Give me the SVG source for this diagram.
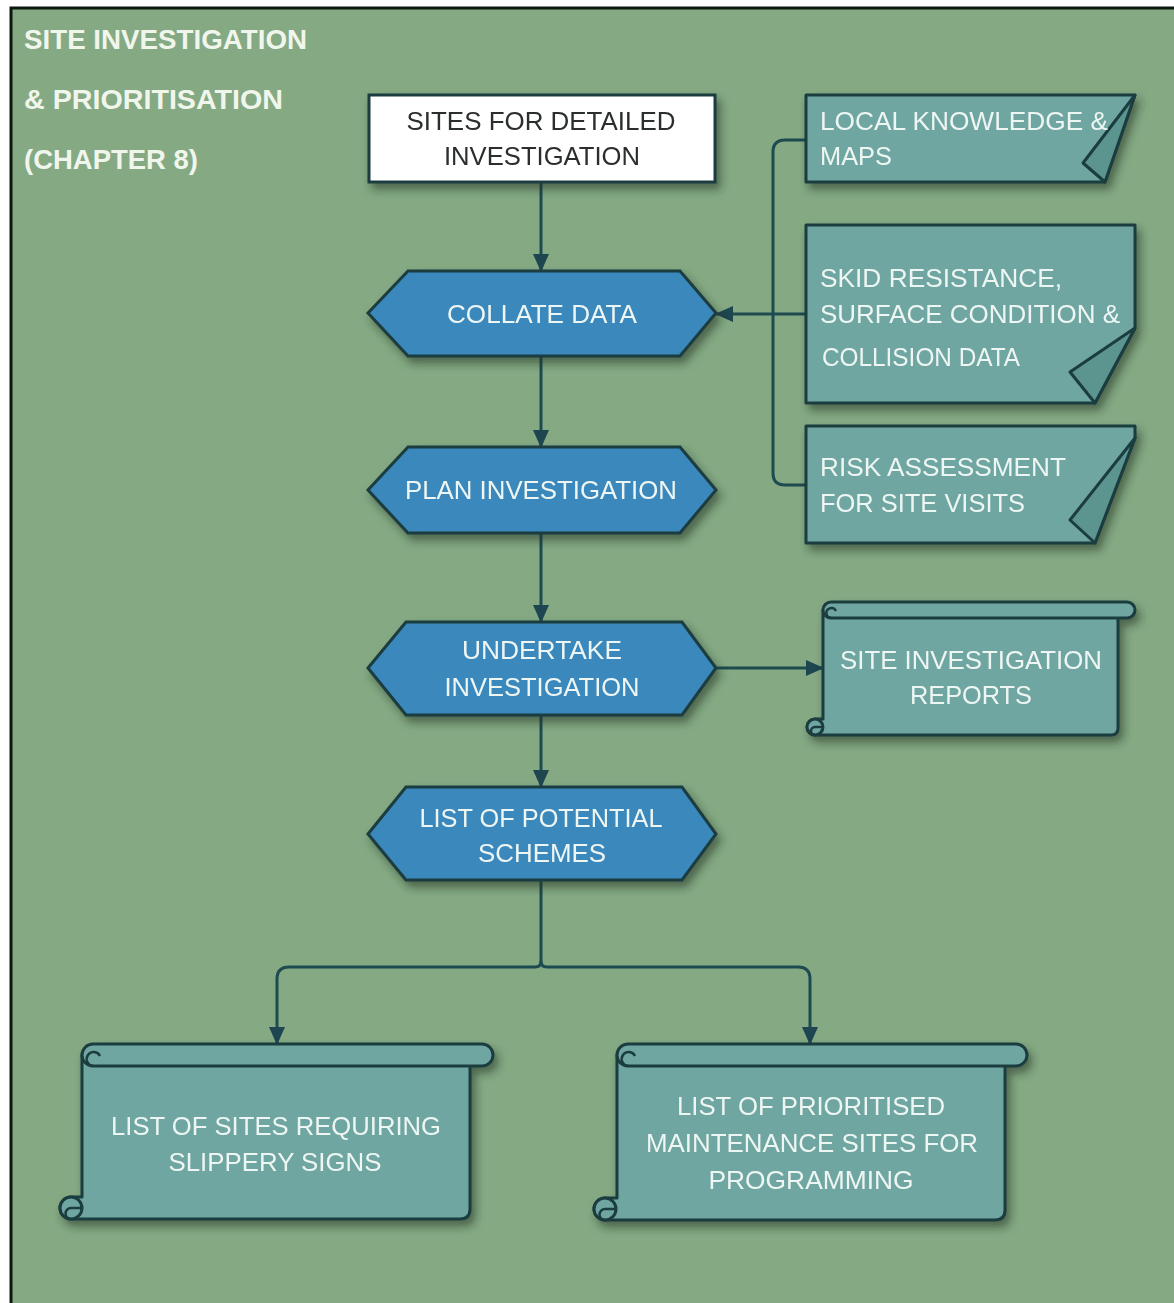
<svg xmlns="http://www.w3.org/2000/svg" width="1174" height="1303" viewBox="0 0 1174 1303">
  <defs>
    <filter id="shadow" x="-10%" y="-10%" width="130%" height="140%">
      <feDropShadow dx="4" dy="6" stdDeviation="4" flood-color="#1d2e24" flood-opacity="0.55"/>
    </filter>
    <marker id="arrow" markerUnits="userSpaceOnUse" markerWidth="18" markerHeight="16" refX="17" refY="8" orient="auto">
      <path d="M0,0 L18,8 L0,16 Z" fill="#1d4650"/>
    </marker>
  </defs>
  <style>
    .frame { fill: #84a983; stroke: #0d160f; stroke-width: 3; }
    .title { font-family: "Liberation Sans", Arial, sans-serif; font-weight: bold; font-size: 28px; fill: #f1f6ec; }
    .hex { fill: #3b88bc; stroke: #1c3d40; stroke-width: 3; }
    .start { fill: #ffffff; stroke: #1c3d3f; stroke-width: 3; }
    .paper { fill: #6fa6a1; stroke: #1c3d3f; stroke-width: 3; stroke-linejoin: round; }
    .fold { fill: #5b948f; stroke: #1c3d3f; stroke-width: 3; stroke-linejoin: round; }
    .curl { fill: none; stroke: #1c3d3f; stroke-width: 2.5; }
    .lbl { font-family: "Liberation Sans", Arial, sans-serif; font-size: 25px; fill: #eef6f3; }
    .dark { font-family: "Liberation Sans", Arial, sans-serif; font-size: 25px; fill: #2b2d2e; }
    .mid { text-anchor: middle; }
    .conn { fill: none; stroke: #1e4a52; stroke-width: 3; }
  </style>

  <!-- page background and frame -->
  <rect x="0" y="0" width="1174" height="1303" fill="#ffffff"/>
  <rect class="frame" x="11" y="8" width="1180" height="1310"/>

  <!-- heading -->
  <g id="heading">
    <text class="title" x="24" y="49" textLength="283" lengthAdjust="spacingAndGlyphs">SITE INVESTIGATION</text>
    <text class="title" x="24" y="109" textLength="259" lengthAdjust="spacingAndGlyphs">&amp; PRIORITISATION</text>
    <text class="title" x="24" y="169" textLength="174" lengthAdjust="spacingAndGlyphs">(CHAPTER 8)</text>
  </g>

  <!-- connectors -->
  <g id="connectors">
    <path class="conn" d="M541,182 L541,271" marker-end="url(#arrow)"/>
    <path class="conn" d="M541,356 L541,447" marker-end="url(#arrow)"/>
    <path class="conn" d="M541,533 L541,622" marker-end="url(#arrow)"/>
    <path class="conn" d="M541,715 L541,787" marker-end="url(#arrow)"/>
    <path class="conn" d="M541,880 L541,961 Q541,967 535,967 L289,967 Q277,967 277,979 L277,1044" marker-end="url(#arrow)"/>
    <path class="conn" d="M541,961 Q541,967 547,967 L798,967 Q810,967 810,979 L810,1044" marker-end="url(#arrow)"/>
    <path class="conn" d="M806,140 L785,140 Q773,140 773,152 L773,473 Q773,485 785,485 L806,485"/>
    <path class="conn" d="M806,314 L716,314" marker-end="url(#arrow)"/>
    <path class="conn" d="M716,668 L823,668" marker-end="url(#arrow)"/>
  </g>

  <!-- start box -->
  <g id="sites-for-detailed-investigation" filter="url(#shadow)">
    <rect class="start" x="369" y="95" width="346" height="87"/>
    <text class="dark mid" x="541" y="130" textLength="269" lengthAdjust="spacingAndGlyphs">SITES FOR DETAILED</text>
    <text class="dark mid" x="542" y="165" textLength="196" lengthAdjust="spacingAndGlyphs">INVESTIGATION</text>
  </g>

  <!-- process steps -->
  <g id="collate-data" filter="url(#shadow)">
    <polygon class="hex" points="368,313 408,271 680,271 716,313 680,356 408,356"/>
    <text class="lbl mid" x="542" y="323" textLength="190" lengthAdjust="spacingAndGlyphs">COLLATE DATA</text>
  </g>

  <g id="plan-investigation" filter="url(#shadow)">
    <polygon class="hex" points="368,490 408,447 680,447 716,490 680,533 408,533"/>
    <text class="lbl mid" x="541" y="499" textLength="272" lengthAdjust="spacingAndGlyphs">PLAN INVESTIGATION</text>
  </g>

  <g id="undertake-investigation" filter="url(#shadow)">
    <polygon class="hex" points="368,668 406,622 682,622 716,668 682,715 406,715"/>
    <text class="lbl mid" x="542" y="659" textLength="160" lengthAdjust="spacingAndGlyphs">UNDERTAKE</text>
    <text class="lbl mid" x="542" y="696" textLength="195" lengthAdjust="spacingAndGlyphs">INVESTIGATION</text>
  </g>

  <g id="list-of-potential-schemes" filter="url(#shadow)">
    <polygon class="hex" points="368,834 406,787 682,787 716,834 682,880 406,880"/>
    <text class="lbl mid" x="541" y="827" textLength="243" lengthAdjust="spacingAndGlyphs">LIST OF POTENTIAL</text>
    <text class="lbl mid" x="542" y="862" textLength="128" lengthAdjust="spacingAndGlyphs">SCHEMES</text>
  </g>

  <!-- input documents with curled corner -->
  <g id="local-knowledge-maps" filter="url(#shadow)">
    <polygon class="paper" points="806,95 1135,95 1105,182 806,182"/>
    <polygon class="fold" points="1135,95 1083,163 1105,182"/>
    <text class="lbl" x="820" y="130" textLength="288" lengthAdjust="spacingAndGlyphs">LOCAL KNOWLEDGE &amp;</text>
    <text class="lbl" x="820" y="165" textLength="72" lengthAdjust="spacingAndGlyphs">MAPS</text>
  </g>

  <g id="skid-resistance-data" filter="url(#shadow)">
    <polygon class="paper" points="806,225 1135,225 1135,328 1095,403 806,403"/>
    <polygon class="fold" points="1135,328 1070,372 1095,403"/>
    <text class="lbl" x="820" y="287" textLength="242" lengthAdjust="spacingAndGlyphs">SKID RESISTANCE,</text>
    <text class="lbl" x="820" y="323" textLength="300" lengthAdjust="spacingAndGlyphs">SURFACE CONDITION &amp;</text>
    <text class="lbl" x="822" y="366" textLength="198" lengthAdjust="spacingAndGlyphs" font-size="24">COLLISION DATA</text>
  </g>

  <g id="risk-assessment" filter="url(#shadow)">
    <polygon class="paper" points="806,426 1135,426 1135,438 1095,543 806,543"/>
    <polygon class="fold" points="1135,438 1070,520 1095,543"/>
    <text class="lbl" x="820" y="476" textLength="246" lengthAdjust="spacingAndGlyphs">RISK ASSESSMENT</text>
    <text class="lbl" x="820" y="512" textLength="205" lengthAdjust="spacingAndGlyphs">FOR SITE VISITS</text>
  </g>

  <!-- output scrolls -->
  <g id="site-investigation-reports" filter="url(#shadow)">
    <path class="paper" d="M823,610 L1118,610 L1118,728 Q1118,735 1111,735 L815,735 A8,8 0 0 1 815,719 L823,719 Z"/>
    <rect class="paper" x="823" y="602" width="312" height="16" rx="8"/>
    <path class="curl" d="M831,618 A5,5 0 1 1 836,611"/>
    <circle class="paper" cx="815" cy="727" r="8"/>
    <path class="curl" d="M815,735 A4,4 0 0 1 815,727 L823,727"/>
    <text class="lbl mid" x="971" y="669" textLength="262" lengthAdjust="spacingAndGlyphs">SITE INVESTIGATION</text>
    <text class="lbl mid" x="971" y="704" textLength="122" lengthAdjust="spacingAndGlyphs">REPORTS</text>
  </g>

  <g id="slippery-signs-sites" filter="url(#shadow)">
    <path class="paper" d="M82,1055 L470,1055 L470,1209 Q470,1219 460,1219 L71,1219 A11,11 0 0 1 71,1197 L82,1197 Z"/>
    <rect class="paper" x="82" y="1044" width="411" height="22" rx="11"/>
    <path class="curl" d="M93,1066 A7,7 0 1 1 100,1056"/>
    <circle class="paper" cx="71" cy="1208" r="11"/>
    <path class="curl" d="M71,1219 A5,5 0 0 1 71,1208 L82,1208"/>
    <text class="lbl mid" x="276" y="1135" textLength="330" lengthAdjust="spacingAndGlyphs">LIST OF SITES REQUIRING</text>
    <text class="lbl mid" x="275" y="1171" textLength="213" lengthAdjust="spacingAndGlyphs">SLIPPERY SIGNS</text>
  </g>

  <g id="prioritised-maintenance-sites" filter="url(#shadow)">
    <path class="paper" d="M617,1055 L1005,1055 L1005,1210 Q1005,1220 995,1220 L605,1220 A11,11 0 0 1 605,1198 L617,1198 Z"/>
    <rect class="paper" x="617" y="1044" width="410" height="22" rx="11"/>
    <path class="curl" d="M628,1066 A7,7 0 1 1 635,1056"/>
    <circle class="paper" cx="605" cy="1209" r="11"/>
    <path class="curl" d="M605,1220 A5,5 0 0 1 605,1209 L616,1209"/>
    <text class="lbl mid" x="811" y="1115" textLength="268" lengthAdjust="spacingAndGlyphs">LIST OF PRIORITISED</text>
    <text class="lbl mid" x="812" y="1152" textLength="332" lengthAdjust="spacingAndGlyphs">MAINTENANCE SITES FOR</text>
    <text class="lbl mid" x="811" y="1189" textLength="205" lengthAdjust="spacingAndGlyphs">PROGRAMMING</text>
  </g>
</svg>
